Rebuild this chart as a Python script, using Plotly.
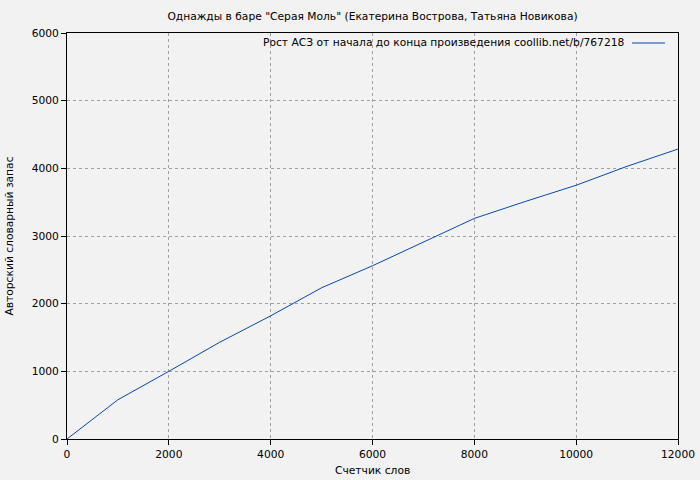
import plotly.graph_objects as go

words = [0, 1000, 2000, 3000, 4000, 5000, 6000, 7000, 8000, 9000, 10000, 11000, 12000]
vocab = [0, 580, 1000, 1430, 1820, 2235, 2560, 2915, 3260, 3510, 3750, 4030, 4285]

title = 'Однажды в баре "Серая Моль" (Екатерина Вострова, Татьяна Новикова)'
series_name = "Рост АСЗ от начала до конца произведения coollib.net/b/767218"
x_title = "Счетчик слов"
y_title = "Авторский словарный запас"
x_ticks = [0, 2000, 4000, 6000, 8000, 10000, 12000]
x_tick_text = ["0", "2000", "4000", "6000", "8000", "10000", "12000"]
y_ticks = [0, 1000, 2000, 3000, 4000, 5000, 6000]
y_tick_text = ["0", "1000", "2000", "3000", "4000", "5000", "6000"]

line_color = "#0a47b0"
font = "DejaVu Sans"
fs = 10.7

fig = go.Figure()
fig.add_trace(go.Scatter(x=words, y=vocab, mode="lines",
                         line=dict(color=line_color, width=1),
                         name=series_name, showlegend=False))

axis_common = dict(
    showline=True, linecolor="black", linewidth=1, mirror=True,
    ticks="outside", ticklen=5, tickcolor="black", tickwidth=1,
    showgrid=True, gridcolor="#a0a0a0", griddash="dot", gridwidth=1,
    zeroline=False, tickfont=dict(family=font, size=fs, color="black"),
    automargin=False,
)

fig.update_layout(
    width=700, height=480,
    paper_bgcolor="#f2f2f2", plot_bgcolor="#f2f2f2",
    margin=dict(l=67, r=22, t=33, b=41),
    title=dict(text=title, xref="paper", x=0.5, xanchor="center", y=0.967, yanchor="middle",
               automargin=False,
               font=dict(family=font, size=fs, color="black")),
    xaxis=dict(range=[0, 12000], tickvals=x_ticks, ticktext=x_tick_text,
               **axis_common),
    yaxis=dict(range=[0, 6000], tickvals=y_ticks, ticktext=y_tick_text,
               title=dict(text=y_title, font=dict(family=font, size=fs, color="black")),
               **axis_common),
    font=dict(family=font, size=fs, color="black"),
)

# x axis title
fig.add_annotation(xref="paper", yref="paper", x=0.5, y=-(470 - 439) / 406,
                   text=x_title, showarrow=False, xanchor="center", yanchor="middle",
                   font=dict(family=font, size=fs, color="black"))

# legend-like label with sample line on the right (gnuplot style)
fig.add_annotation(xref="paper", yref="paper", x=(626 - 67) / 611, y=(439 - 43) / 406,
                   text=series_name, showarrow=False, xanchor="right", yanchor="middle",
                   font=dict(family=font, size=fs, color="black"))
fig.add_shape(type="line", xref="paper", yref="paper",
              x0=(632 - 67) / 611, x1=(665 - 67) / 611,
              y0=(439 - 43) / 406, y1=(439 - 43) / 406,
              line=dict(color=line_color, width=1))

fig.write_html("out.html", config={"displayModeBar": False},
               post_script="document.body.style.margin='0';document.body.style.background='#f2f2f2';")
